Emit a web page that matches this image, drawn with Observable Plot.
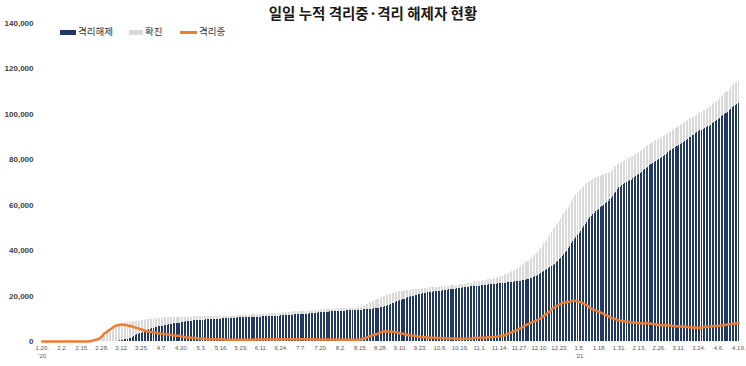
<!DOCTYPE html>
<html><head><meta charset="utf-8">
<script src="https://cdn.jsdelivr.net/npm/d3@7"></script>
<script src="https://cdn.jsdelivr.net/npm/@observablehq/plot@0.6"></script>
<style>
body{margin:0;background:#fff;}
#wrap{position:relative;width:746px;height:366px;font-family:"Noto Sans CJK KR","Noto Sans",sans-serif;}
#title{position:absolute;left:0;top:3px;width:746px;text-align:center;font-size:14.5px;font-weight:bold;color:#1a1a1a;line-height:20px;}
#legend{position:absolute;left:60px;top:24px;font-size:9.5px;color:#333;line-height:14px;white-space:nowrap;}
#legend span.item{position:absolute;top:0;}
#legend i{display:inline-block;vertical-align:middle;margin-right:2px;}
#chart{position:absolute;left:0;top:0;}
</style></head>
<body>
<div id="wrap">
  <div id="chart"></div>
  <div id="title">일일 누적 격리중·격리 해제자 현황</div>
  <div id="legend"></div>
</div>
<script>
// month start dates (first block starts 2020-01-20)
const monthStarts = ["2020-01-20","2020-02-01","2020-03-01","2020-04-01","2020-05-01","2020-06-01","2020-07-01","2020-08-01","2020-09-01","2020-10-01","2020-11-01","2020-12-01","2021-01-01","2021-02-01","2021-03-01","2021-04-01"];

// cumulative confirmed (확진), in hundreds of people, one inner array per month
const confirmed = [
  [0,0,0,0,0,0,0,0,0,0,0,0],
  [0,0,0,0,0,0,0,0,0,0,0,0,0,0,0,0,0,0,1,1,2,4,6,8,10,13,18,23,32],
  [37,42,48,53,58,63,68,71,74,75,78,79,80,81,82,82,83,84,86,87,88,89,90,90,91,92,93,95,96,97,98],
  [99,100,101,102,102,103,103,104,104,105,105,105,105,106,106,106,106,107,107,107,107,107,107,107,107,107,107,108,108,108],
  [108,108,108,108,108,108,108,108,108,109,109,109,110,110,110,110,111,111,111,111,111,111,112,112,112,112,113,113,114,114,115],
  [115,115,116,116,117,117,118,118,119,119,119,120,121,121,121,122,122,123,123,124,124,124,125,125,126,126,127,127,128,128],
  [129,130,130,131,131,131,132,132,133,133,134,134,135,135,136,136,137,137,138,138,139,139,140,141,141,142,142,143,143,143,144],
  [144,144,144,145,145,145,146,146,146,147,147,147,148,149,150,153,155,158,161,163,167,170,174,177,179,183,187,191,194,197,199],
  [201,203,206,209,212,214,215,217,218,219,221,222,223,224,224,225,226,227,228,229,229,230,231,232,233,234,234,235,236,237],
  [238,238,239,239,239,240,241,241,242,243,243,244,245,246,246,247,248,248,249,250,251,252,253,254,255,256,257,260,262,263,265],
  [266,267,268,269,270,272,273,274,275,276,278,279,282,283,285,287,289,293,296,300,304,307,310,313,317,322,327,331,336,342],
  [347,352,357,363,369,375,381,387,394,402,409,419,430,436,446,456,467,480,491,501,510,519,530,541,553,563,571,579,591,604,617],
  [627,638,647,654,660,668,676,683,690,695,699,703,708,712,716,721,723,725,728,731,734,736,739,741,743,749,753,764,769,778,782],
  [785,789,793,798,801,804,808,810,814,819,823,827,832,836,839,845,852,858,863,868,872,875,879,883,888,891,895,900],
  [904,908,912,916,921,925,929,933,937,942,946,951,955,959,963,967,972,976,980,984,988,992,997,1001,1006,1010,1015,1019,1022,1027,1031],
  [1036,1042,1048,1054,1058,1062,1070,1077,1084,1091,1097,1102,1110,1118,1125,1131,1137,1141,1146]
];

// cumulative released (격리해제), in hundreds
const released = [
  [0,0,0,0,0,0,0,0,0,0,0,0],
  [0,0,0,0,0,0,0,0,0,0,0,0,0,0,0,0,0,0,0,0,0,0,0,0,0,0,0,0,0],
  [0,0,0,0,1,1,1,1,2,2,3,3,5,7,8,11,14,15,19,22,26,29,32,35,37,41,45,48,50,52,54],
  [56,58,60,63,65,66,67,68,70,71,72,74,74,75,78,78,79,80,81,83,84,85,86,87,88,89,89,91,91,91],
  [92,92,93,93,94,95,96,96,96,97,97,98,98,98,99,99,100,101,101,102,102,102,102,103,103,103,104,104,104,104,104],
  [104,105,105,105,106,106,106,107,107,107,107,108,108,108,109,109,109,110,110,111,111,112,112,113,113,114,114,115,115,115],
  [116,116,117,118,118,119,119,119,120,120,121,121,122,122,123,123,124,125,126,126,127,127,128,128,129,130,131,131,132,132,132],
  [133,133,134,134,134,135,135,135,136,136,136,137,137,137,138,138,139,139,140,140,141,142,143,144,145,146,147,148,149,150,152],
  [154,157,160,163,166,169,171,174,177,180,182,185,187,190,192,194,196,198,199,201,203,205,207,208,210,211,212,214,215,217],
  [217,218,219,219,220,221,222,223,224,225,226,227,228,229,230,231,232,233,234,235,236,236,237,238,239,240,240,241,242,243,244],
  [244,245,246,247,248,248,249,250,251,252,252,253,254,254,255,256,257,257,258,259,260,261,261,262,263,264,265,266,267,268],
  [270,272,274,276,279,282,285,288,292,296,300,304,308,312,316,320,325,330,336,341,347,353,360,367,374,382,390,398,408,419,430],
  [439,450,459,468,476,486,497,506,517,526,535,544,552,559,565,573,578,582,588,594,600,606,612,617,623,631,638,650,658,669,676],
  [680,685,690,695,699,703,708,711,716,721,726,731,737,741,745,751,757,762,768,774,778,782,787,792,798,802,807,812],
  [816,821,825,830,835,840,845,849,854,859,864,869,873,878,882,886,891,896,900,905,909,914,919,924,928,931,935,938,941,945,948],
  [953,958,964,969,973,976,983,989,995,1000,1005,1009,1016,1023,1029,1035,1040,1043,1048]
];

// currently isolated (격리중), in hundreds
const isolating = [
  [0,0,0,0,0,0,0,0,0,0,0,0],
  [0,0,0,0,0,0,0,0,0,0,0,0,0,0,0,0,0,0,0,1,2,4,6,8,9,12,17,23,31],
  [37,41,47,52,56,61,66,70,72,72,74,75,74,73,72,70,68,68,65,63,61,59,57,54,53,50,47,45,44,43,42],
  [41,40,39,37,35,35,34,34,32,32,31,29,29,29,26,26,25,25,24,22,21,20,19,18,17,16,16,15,15,15],
  [13,13,12,12,11,11,10,10,10,10,10,10,10,10,10,9,9,9,8,8,8,8,8,8,8,8,8,8,8,8,8],
  [8,8,8,8,8,8,9,9,9,9,9,9,10,10,10,10,10,10,10,10,10,10,10,10,10,10,10,10,10,10],
  [10,10,10,10,10,10,10,10,10,10,10,10,10,10,10,10,10,9,9,9,9,9,9,9,9,9,9,9,9,9,9],
  [8,8,8,8,8,8,8,8,8,8,8,8,8,9,9,12,13,16,18,20,23,25,28,30,31,34,37,40,42,44,44],
  [44,43,43,43,43,42,41,40,38,35,35,33,32,30,28,27,26,25,25,24,22,21,20,20,19,19,18,17,17,16],
  [17,16,16,16,15,15,15,14,14,14,13,13,13,13,12,12,12,11,11,11,11,12,12,12,12,12,13,15,16,16,17],
  [17,17,17,17,17,19,19,19,19,19,21,21,23,24,25,26,27,31,33,36,39,41,44,46,49,53,57,60,64,69],
  [72,75,78,82,85,87,90,93,96,100,103,109,116,118,124,129,135,143,148,153,156,159,163,166,171,173,173,173,175,176,178],
  [179,179,178,176,174,172,169,166,162,158,153,148,144,141,139,136,133,130,127,124,121,117,114,111,107,104,101,100,97,95,92],
  [91,90,89,88,87,86,85,84,83,83,82,81,80,80,79,79,80,81,80,79,78,77,76,75,74,73,72,72],
  [72,71,71,70,70,69,68,68,67,67,66,66,66,65,65,64,64,63,63,62,62,61,61,60,61,62,63,64,64,65,66],
  [66,67,67,68,68,69,70,71,72,73,74,75,76,77,78,78,79,80,80]
];

// x tick dates (every 13 days) and year marks
const tickDates = ["2020-01-20","2020-02-02","2020-02-15","2020-02-28","2020-03-12","2020-03-25","2020-04-07","2020-04-20","2020-05-03","2020-05-16","2020-05-29","2020-06-11","2020-06-24","2020-07-07","2020-07-20","2020-08-02","2020-08-15","2020-08-28","2020-09-10","2020-09-23","2020-10-06","2020-10-19","2020-11-01","2020-11-14","2020-11-27","2020-12-10","2020-12-23","2021-01-05","2021-01-18","2021-01-31","2021-02-13","2021-02-26","2021-03-11","2021-03-24","2021-04-06","2021-04-19"];
const yearDates = ["2020-01-20","2021-01-05"];
const yearLabels = ["'20","'21"];
const yTicks = [0,20000,40000,60000,80000,100000,120000,140000];

const seriesNames = ["격리해제","확진","격리중"];
const seriesColors = ["#1f3864","#d9d9d9","#ed7d31"];

const parse = d3.utcParse("%Y-%m-%d");
const table = [];
monthStarts.forEach((ms, m) => {
  const start = parse(ms);
  confirmed[m].forEach((c, i) => {
    const d0 = d3.utcDay.offset(start, i);
    table.push({
      d0, d1: d3.utcDay.offset(d0, 1), mid: d3.utcHour.offset(d0, 12),
      confirmed: c * 100, released: released[m][i] * 100, isolating: isolating[m][i] * 100
    });
  });
});
const mid = s => d3.utcHour.offset(parse(s), 12);
const fmt = d3.utcFormat("%-m.%-d.");

const chart = Plot.plot({
  width: 746, height: 366,
  marginLeft: 41, marginRight: 7, marginTop: 23, marginBottom: 25,
  style: {fontFamily: "'Liberation Sans', Arial, sans-serif", fontSize: "8px", fontWeight: "bold", color: "#404040", background: "transparent"},
  x: {type: "utc", domain: [parse("2020-01-20"), parse("2021-04-20")], axis: null},
  y: {domain: [0, 140000], ticks: yTicks, tickFormat: d3.format(","), tickSize: 0, tickPadding: 8, label: null},
  marks: [
    Plot.rect(table, {x1: "d0", x2: "d1", y1: 0, y2: "confirmed", fill: seriesColors[1], insetLeft: 0.25, insetRight: 0.25, shapeRendering: "crispEdges"}),
    Plot.rect(table, {x1: "d0", x2: "d1", y1: 0, y2: "released", fill: seriesColors[0], insetLeft: 0.25, insetRight: 0.25, shapeRendering: "crispEdges"}),
    Plot.line(table, {x: "mid", y: "isolating", stroke: seriesColors[2], strokeWidth: 2.5, curve: "monotone-x"}),
    Plot.text(tickDates, {x: d => mid(d), frameAnchor: "bottom", dy: 8, text: d => fmt(parse(d)), fontSize: 6, fontWeight: "normal", fill: "#595959"}),
    Plot.text(yearDates, {x: d => mid(d), frameAnchor: "bottom", dy: 16.5, text: (d, i) => yearLabels[i], fontSize: 6, fontWeight: "normal", fill: "#595959"})
  ]
});
document.getElementById("chart").appendChild(chart);

// legend
const lg = document.getElementById("legend");
const pos = [0, 69, 120];
seriesNames.forEach((n, i) => {
  const s = document.createElement("span");
  s.className = "item";
  s.style.left = pos[i] + "px";
  const sw = document.createElement("i");
  if (i === 2) { sw.style.width = "17px"; sw.style.height = "2.5px"; }
  else { sw.style.width = (i === 0 ? 16 : 14) + "px"; sw.style.height = "5px"; }
  sw.style.background = seriesColors[i];
  s.appendChild(sw);
  s.appendChild(document.createTextNode(n));
  lg.appendChild(s);
});
</script>
</body></html>
